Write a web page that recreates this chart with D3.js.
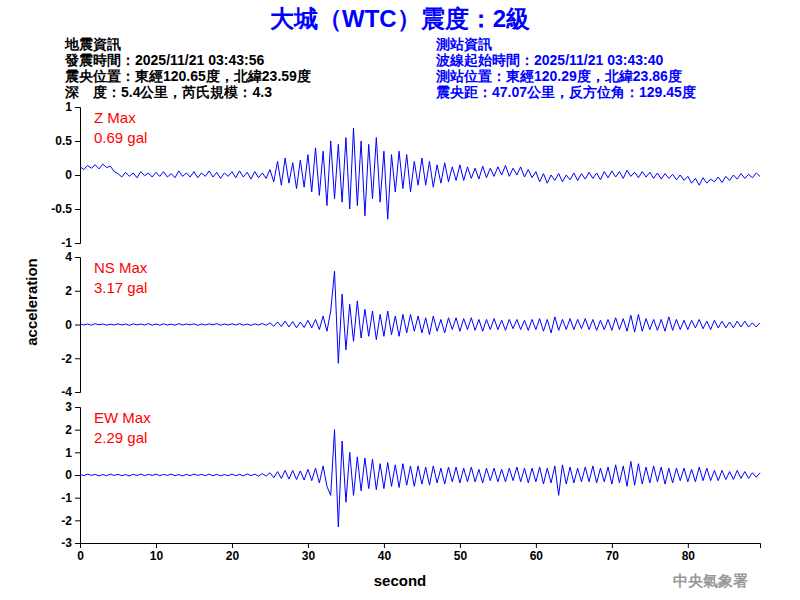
<!DOCTYPE html><html><head><meta charset="utf-8"><script src="https://cdn.jsdelivr.net/npm/d3@7"></script>
<style>body{margin:0;background:#fff}text{font-family:"Liberation Sans",Arial,sans-serif}</style></head><body><svg id="c" width="800" height="600"></svg>
<script>
const dt = 0.5;
const zVals = [0.12,0.08,0.14,0.1,0.15,0.09,0.16,0.11,0.13,0.05,
0.02,-0.03,0.04,-0.02,0.03,-0.04,0.05,-0.01,0.03,-0.03,
0.04,-0.02,0.05,-0.03,0.02,-0.04,0.06,-0.02,0.03,-0.03,
0.05,-0.04,0.03,-0.02,0.06,-0.03,0.04,-0.05,0.03,-0.02,
0.05,-0.04,0.06,-0.03,0.04,-0.06,0.05,-0.04,0.03,-0.05,
0.08,-0.1,0.2,-0.15,0.25,-0.12,0.18,-0.2,0.22,-0.18,
0.3,-0.25,0.4,-0.3,0.35,-0.45,0.5,-0.35,0.45,-0.4,
0.55,-0.5,0.69,-0.45,0.5,-0.6,0.45,-0.35,0.55,-0.4,
0.35,-0.65,0.3,-0.25,0.35,-0.2,0.3,-0.25,0.2,-0.15,
0.25,-0.15,0.2,-0.18,0.15,-0.12,0.18,-0.1,0.12,-0.08,
0.15,-0.08,0.12,-0.05,0.1,-0.06,0.13,-0.04,0.1,-0.02,
0.12,0.0,0.14,-0.02,0.1,0.0,0.12,-0.03,0.08,-0.04,
0.05,-0.1,0.02,-0.12,0.0,-0.08,0.02,-0.1,0.0,-0.07,
0.03,-0.08,0.02,-0.06,0.04,-0.05,0.03,-0.07,0.05,-0.04,
0.06,-0.03,0.05,-0.05,0.07,-0.02,0.04,-0.04,0.05,-0.03,
0.04,-0.05,0.03,-0.06,0.02,-0.05,0.01,-0.07,0.0,-0.08,
-0.02,-0.12,-0.05,-0.15,-0.04,-0.12,-0.06,-0.1,-0.03,-0.11,
-0.02,-0.08,0.0,-0.06,0.02,-0.05,0.01,-0.04,0.03,-0.02];
const nsVals = [0.04,-0.03,0.03,-0.04,0.05,-0.02,0.03,-0.04,0.02,-0.03,
0.04,-0.03,0.03,-0.05,0.04,-0.02,0.03,-0.03,0.05,-0.04,
0.03,-0.04,0.04,-0.03,0.02,-0.04,0.05,-0.03,0.03,-0.02,
0.04,-0.05,0.03,-0.03,0.04,-0.02,0.05,-0.04,0.03,-0.03,
0.04,-0.03,0.05,-0.04,0.03,-0.05,0.04,-0.03,0.06,-0.05,
0.1,-0.1,0.15,-0.12,0.2,-0.15,0.18,-0.2,0.15,-0.18,
0.25,-0.2,0.3,-0.3,0.5,-0.4,0.8,3.17,-2.3,1.8,
-1.5,1.2,-1.0,1.4,-0.8,0.9,-0.7,0.8,-0.9,0.6,
-0.7,0.8,-0.6,0.5,-0.7,0.6,-0.5,0.6,-0.4,0.5,
-0.5,0.4,-0.6,0.5,-0.4,0.3,-0.5,0.4,-0.3,0.4,
-0.4,0.35,-0.3,0.4,-0.35,0.3,-0.4,0.3,-0.3,0.35,
-0.3,0.25,-0.35,0.3,-0.25,0.3,-0.3,0.25,-0.35,0.3,
-0.3,0.35,-0.4,0.3,-0.5,0.45,-0.35,0.3,-0.3,0.35,
-0.3,0.3,-0.25,0.35,-0.3,0.3,-0.35,0.25,-0.3,0.3,
-0.35,0.4,-0.3,0.35,-0.4,0.55,-0.45,0.6,-0.4,0.35,
-0.3,0.3,-0.35,0.3,-0.4,0.45,-0.35,0.3,-0.3,0.25,
-0.3,0.25,-0.2,0.3,-0.25,0.2,-0.3,0.25,-0.2,0.2,
-0.2,0.15,-0.2,0.2,-0.15,0.2,-0.15,0.1,-0.15,0.1];
const ewVals = [0.03,-0.03,0.04,-0.02,0.03,-0.04,0.02,-0.03,0.04,-0.02,
0.03,-0.03,0.02,-0.04,0.03,-0.02,0.04,-0.03,0.03,-0.02,
0.04,-0.03,0.03,-0.02,0.04,-0.03,0.02,-0.04,0.03,-0.03,
0.04,-0.02,0.03,-0.03,0.04,-0.03,0.03,-0.04,0.02,-0.03,
0.04,-0.03,0.03,-0.04,0.05,-0.03,0.04,-0.05,0.06,-0.05,
0.1,-0.12,0.15,-0.15,0.2,-0.18,0.2,-0.2,0.18,-0.22,
0.25,-0.25,0.3,-0.35,0.4,-0.5,-0.9,2.0,-2.29,1.5,
-1.2,1.0,-0.9,0.8,-0.7,0.75,-0.6,0.7,-0.65,0.5,
-0.6,0.55,-0.5,0.45,-0.55,0.5,-0.45,0.4,-0.5,0.4,
-0.4,0.35,-0.45,0.4,-0.35,0.3,-0.4,0.35,-0.3,0.35,
-0.35,0.3,-0.3,0.35,-0.3,0.25,-0.35,0.3,-0.25,0.3,
-0.3,0.25,-0.3,0.3,-0.25,0.35,-0.3,0.3,-0.35,0.3,
-0.3,0.35,-0.4,0.3,-0.35,0.4,-0.9,0.45,-0.4,0.35,
-0.35,0.3,-0.3,0.35,-0.3,0.4,-0.35,0.3,-0.3,0.35,
-0.4,0.45,-0.35,0.4,-0.5,0.6,-0.45,0.5,-0.4,0.35,
-0.35,0.4,-0.3,0.35,-0.4,0.3,-0.35,0.3,-0.25,0.3,
-0.3,0.25,-0.3,0.35,-0.25,0.3,-0.25,0.2,-0.25,0.2,
-0.2,0.15,-0.2,0.2,-0.15,0.15,-0.15,0.1,-0.1,0.1];
const panels = [
 {name:"Z Max", max:"0.69 gal", data:zVals, dom:[-1,1], ticks:[-1,-0.5,0,0.5,1], top:107, bot:243},
 {name:"NS Max", max:"3.17 gal", data:nsVals, dom:[-4,4], ticks:[-4,-2,0,2,4], top:257, bot:392},
 {name:"EW Max", max:"2.29 gal", data:ewVals, dom:[-3,3], ticks:[-3,-2,-1,0,1,2,3], top:407, bot:543}
];
const xTicks=[0,10,20,30,40,50,60,70,80];
const svg=d3.select("#c");
const x=d3.scaleLinear().domain([0,89.5]).range([80,760]);
panels.forEach(p=>{
  const y=d3.scaleLinear().domain(p.dom).range([p.bot,p.top]);
  svg.append("g").attr("transform","translate(80,0)").call(d3.axisLeft(y).tickValues(p.ticks).tickFormat(d=>d).tickSizeOuter(0).tickSize(5))
   .call(g=>g.selectAll("text").attr("font-size",12).attr("font-weight","bold").attr("fill","#000").attr("font-family","Liberation Sans,Arial"))
   .call(g=>g.selectAll("path,line").attr("stroke","#000"));
  svg.append("path").datum(p.data).attr("fill","none").attr("stroke","#0000ff").attr("stroke-width",1)
   .attr("d",d3.line().x((d,i)=>x(i*dt)).y(d=>y(d)));
  svg.append("text").attr("x",94).attr("y",p.top+16).attr("fill","#ff0000").attr("font-size",15).text(p.name);
  svg.append("text").attr("x",94).attr("y",p.top+36).attr("fill","#ff0000").attr("font-size",15).text(p.max);
});
svg.append("g").attr("transform","translate(0,543)").call(d3.axisBottom(x).tickValues(xTicks).tickSizeOuter(0).tickSize(5))
 .call(g=>g.selectAll("text").attr("font-size",12).attr("font-weight","bold").attr("fill","#000"))
 .call(g=>g.selectAll("path,line").attr("stroke","#000"));
svg.append("text").attr("x",400).attr("y",586).attr("text-anchor","middle").attr("font-size",15).attr("font-weight","bold").text("second");
svg.append("text").attr("transform","translate(37,302) rotate(-90)").attr("text-anchor","middle").attr("font-size",15).attr("font-weight","bold").text("acceleration");
svg.append("text").attr("x",400).attr("y",27).attr("text-anchor","middle").attr("fill","#0000ff").attr("font-size",24).attr("font-weight","bold").attr("font-family","Noto Sans CJK TC").text("大城（WTC）震度：2級");
const left=["地震資訊","發震時間：2025/11/21 03:43:56","震央位置：東經120.65度，北緯23.59度","深　度：5.4公里，芮氏規模：4.3"];
const right=["測站資訊","波線起始時間：2025/11/21 03:43:40","測站位置：東經120.29度，北緯23.86度","震央距：47.07公里，反方位角：129.45度"];
left.forEach((t,i)=>svg.append("text").attr("x",65).attr("y",49+i*16).attr("font-size",14).attr("font-weight","bold").attr("font-family","Noto Sans CJK TC").attr("fill","#000").text(t));
right.forEach((t,i)=>svg.append("text").attr("x",436).attr("y",49+i*16).attr("font-size",14).attr("font-weight","bold").attr("font-family","Noto Sans CJK TC").attr("fill","#0000ff").text(t));
svg.append("text").attr("x",748).attr("y",586).attr("text-anchor","end").attr("font-size",15).attr("font-weight","bold").attr("fill","#999").attr("font-family","Noto Sans CJK TC").text("中央氣象署");
</script></body></html>
